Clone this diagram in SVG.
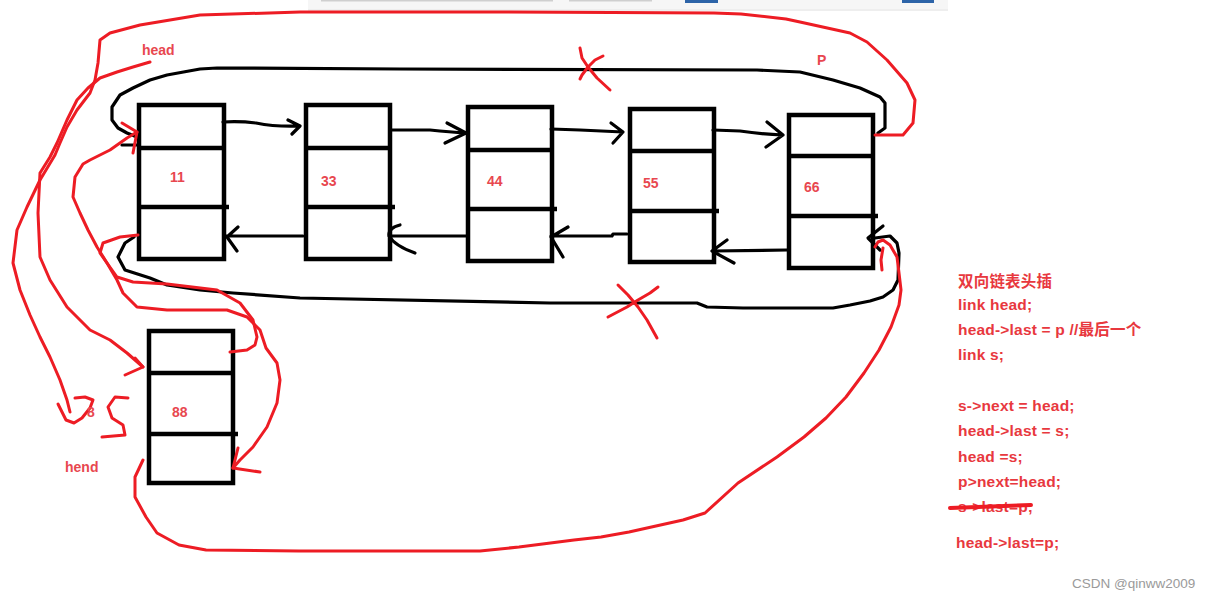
<svg xmlns="http://www.w3.org/2000/svg" width="1217" height="601" viewBox="0 0 1217 601">
<style>
.box{fill:none;stroke:#000;stroke-width:4.5}
.dv{fill:none;stroke:#000;stroke-width:4.5}
.blk{fill:none;stroke:#000;stroke-width:3.2;stroke-linecap:round;stroke-linejoin:round}
.red{fill:none;stroke:#ed1c24;stroke-width:3;stroke-linecap:round;stroke-linejoin:round}
.lbl{font-family:"Liberation Sans",Arial,sans-serif;font-weight:bold;font-size:14px;fill:#e8474f}
.code{font-family:"Liberation Sans","Noto Sans CJK SC",sans-serif;font-weight:bold;font-size:15.5px;letter-spacing:0.2px;fill:#e8383e}
.wm{font-family:"Liberation Sans",Arial,sans-serif;font-size:13.5px;fill:#9a9a9a}
</style>
<rect width="1217" height="601" fill="#ffffff"/>
<g id="topstrip">
<rect x="308" y="0" width="640" height="9" fill="#f6f6f6"/>
<rect x="308" y="9" width="640" height="2" fill="#eeeeee"/>
<rect x="321" y="0" width="232" height="1.5" fill="#cfcfcf"/>
<rect x="569" y="0" width="83" height="1.5" fill="#cfcfcf"/>
<rect x="685" y="0" width="33" height="3" fill="#2d64a8"/>
<rect x="902" y="0" width="32" height="3" fill="#2d64a8"/>
</g>

<g id="n11"><rect class="box" x="139" y="105" width="85" height="154"/><path class="dv" d="M139,148H224M139,207H229"/><text class="lbl" x="170" y="182">11</text></g>
<g id="n33"><rect class="box" x="306" y="105" width="84" height="154"/><path class="dv" d="M306,148H390M306,207H395"/><text class="lbl" x="321" y="186">33</text></g>
<g id="n44"><rect class="box" x="468" y="107" width="84" height="154"/><path class="dv" d="M468,150H552M468,209H557"/><text class="lbl" x="487" y="186">44</text></g>
<g id="n55"><rect class="box" x="630" y="109" width="84" height="153"/><path class="dv" d="M630,151H714M630,211H719"/><text class="lbl" x="643" y="188">55</text></g>
<g id="n66"><rect class="box" x="789" y="115" width="84" height="153"/><path class="dv" d="M789,156H873M789,216H878"/><text class="lbl" x="804" y="192">66</text></g>
<g id="n88"><rect class="box" x="149" y="331" width="84" height="152"/><path class="dv" d="M149,373H233M149,434H238"/><text class="lbl" x="172" y="417">88</text></g>

<g id="connectors">
<path class="blk" d="M223,122 Q240,121 256,123 Q276,127 300,126 M288,120 L300,126 L292,134"/>
<path class="blk" d="M392,130 L430,130 Q450,132 466,133 M447,123 L466,133 L445,143"/>
<path class="blk" d="M551,129 L580,130 L623,132 M611,123 L623,132 L613,143"/>
<path class="blk" d="M713,130 L740,131 Q760,134 783,135 M767,122 L783,135 L766,147"/>
<path class="blk" d="M303,236 L226,236 M238,227 L227,237 L237,251"/>
<path class="blk" d="M466,236 L390,236 M400,225 Q388,228 389,236 Q395,246 415,253"/>
<path class="blk" d="M627,234 L613,234 L612,236 L551,236 M568,227 L551,237 L563,257"/>
<path class="blk" d="M787,250 L712,251 M727,240 L712,251 L734,263"/>
<polyline class="blk" points="878,133 885,128 885,103 880,97 860,88 833,80 800,72 757,70 400,69 217,68 200,69 167,75 150,80 133,88 120,95 112,107 112,120 118,128 127,133 137,137"/>
<path class="blk" d="M122,145 L137,145"/>
<polyline class="blk" points="134,237 125,243 118,257 125,270 150,278 167,285 200,290 233,293 300,298 550,303 697,303 707,307 743,308 833,308 850,305 870,301 883,297 893,290 898,280 899,253 897,243 890,236 875,238"/>
<path class="blk" d="M883,226 L868,238 L880,250"/>

<polyline class="red" points="875,135 903,135 913,123 915,100 907,83 887,60 867,42 850,33 800,22 786,19 741,14 714,13 500,12 300,12 200,15 140,25 110,33 100,40 98,63 95,80 90,93 77,110 67,127 60,143 55,155 40,180 27,207 17,230 13,263 20,290 30,315 40,337 50,357 60,380 67,400 70,412"/>
<polyline class="red" points="58,404 66,420 74,423 82,418 90,408 93,400 85,397 75,398"/>
<polyline class="red" points="128,398 115,397 108,407 112,418 123,425 125,435 102,437"/>
<polyline class="red" points="150,62 133,67 117,72 100,78 88,88 77,100 67,120 57,143 50,157 40,173 38,213 40,257 50,280 67,307 90,330 110,340 127,353 143,367"/>
<path class="red" d="M135,358 L143,367 L125,375"/>
<polyline class="red" points="137,132 127,138 110,150 90,160 83,164 75,177 73,197 80,213 88,230 97,247 107,263 117,280 123,293 137,307 167,310 227,310 247,317 260,330 266,348 277,363 280,380 277,403 267,427 253,447 240,460 233,468"/>
<path class="red" d="M122,123 L137,132 L133,153"/>
<path class="red" d="M238,448 L233,468 L260,472"/>
<polyline class="red" points="138,235 120,237 103,243 100,253 107,263 117,277 133,282 167,284 217,290 240,303 253,320 257,337 255,345 247,350 230,352"/>
<polyline class="red" points="143,460 135,477 135,497 146,517 157,533 179,545 206,550 299,551 480,551 519,547 574,540 601,537 629,532 683,520 705,513 738,483 777,457 804,437 826,418 846,397 864,373 879,350 891,327 899,305 901,290 899,273 897,257 890,245 883,240 878,242 875,247"/>
<path class="red" d="M883,248 L881,260 L882,270"/>
<polyline class="red" points="580,48 582,58 588,67 597,78 610,90"/>
<polyline class="red" points="603,56 595,60 588,67 582,75 580,79"/>
<polyline class="red" points="618,285 628,295 638,307 647,320 657,338"/>
<polyline class="red" points="658,287 650,293 638,300 627,307 608,317"/>
</g>

<g id="labels">
<text class="lbl" x="142" y="55">head</text>
<text class="lbl" x="817" y="65">P</text>
<text class="lbl" x="87" y="417">8</text>
<text class="lbl" x="65" y="472">hend</text>
</g>

<g id="code">
<text class="code" x="958" y="287">双向链表头插</text>
<text class="code" x="958" y="310">link head;</text>
<text class="code" x="958" y="335">head-&gt;last = p //最后一个</text>
<text class="code" x="958" y="360">link s;</text>
<text class="code" x="958" y="411">s-&gt;next = head;</text>
<text class="code" x="958" y="436">head-&gt;last = s;</text>
<text class="code" x="958" y="462">head =s;</text>
<text class="code" x="958" y="487">p&gt;next=head;</text>
<text class="code" x="958" y="512">s-&gt;last=p;</text>
<path d="M950,508 L1031,505" stroke="#ed1c24" stroke-width="4" stroke-linecap="round" fill="none"/>
<text class="code" x="956" y="548">head-&gt;last=p;</text>
</g>
<text class="wm" x="1072" y="588">CSDN @qinww2009</text>
</svg>
